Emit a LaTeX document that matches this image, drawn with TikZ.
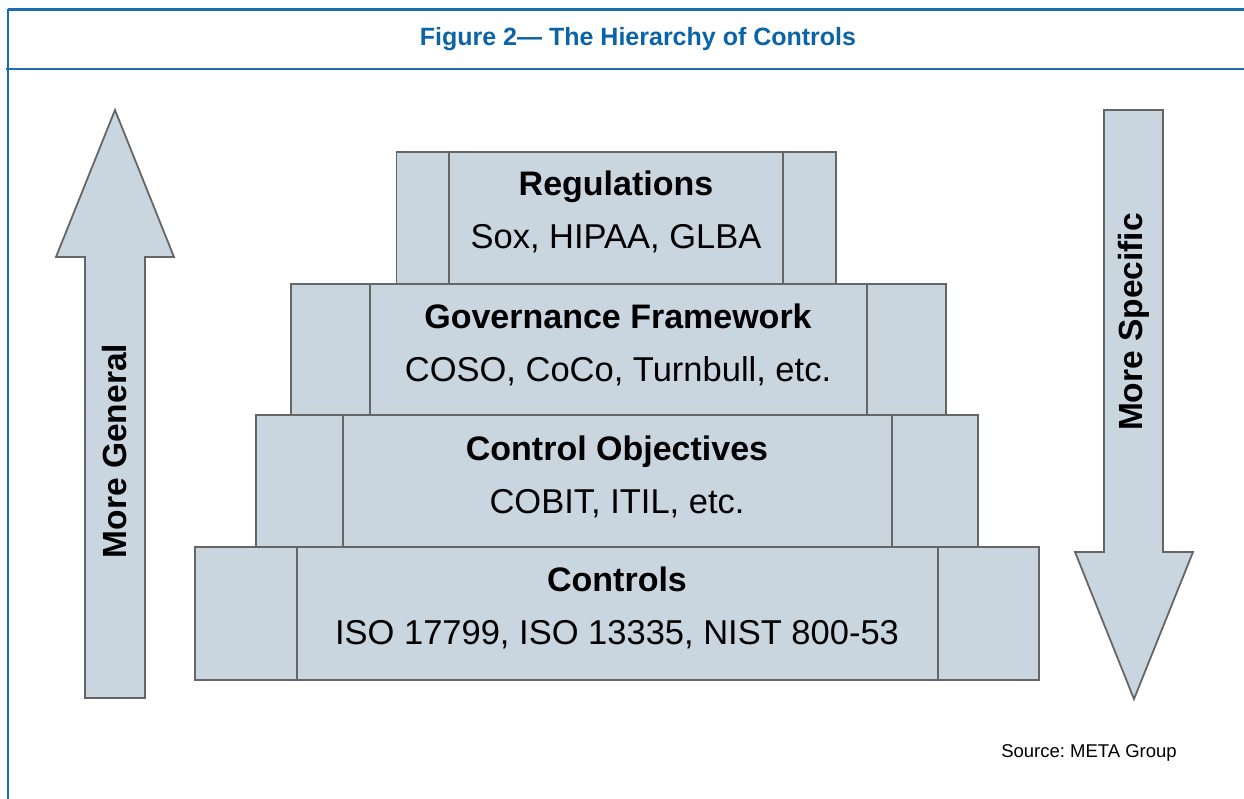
\documentclass[tikz,border=0pt]{standalone}
\usepackage{fontspec}
\setmainfont{Liberation Sans}
\frenchspacing
\definecolor{frameblue}{HTML}{1A6DB0}
\definecolor{titleblue}{HTML}{0B63A8}
\definecolor{tierfill}{HTML}{C9D5DF}
\definecolor{tierline}{HTML}{666666}
\begin{document}
\begin{tikzpicture}[x=1pt,y=-1pt,
  tier/.style={draw=tierline,fill=tierfill,line width=1.6pt},
  divider/.style={draw=tierline,line width=1.6pt},
  bigarrow/.style={draw=tierline,fill=tierfill,line width=1.8pt,line join=miter},
  headtxt/.style={anchor=base,font=\bfseries\fontsize{34}{40}\selectfont},
  subtxt/.style={anchor=base,font=\fontsize{34.5}{40}\selectfont},
  sidetxt/.style={rotate=90,font=\bfseries\fontsize{33.5}{38}\selectfont}]
\useasboundingbox (0,0) rectangle (1244,799);
% outer frame and header band
\draw[frameblue,line width=2.2pt] (8,9.5) -- (1260,9.5);
\draw[frameblue,line width=2.2pt] (8,9.5) -- (8,820);
\draw[frameblue,line width=2.2pt] (6,69) -- (1260,69);
\node[text=titleblue,font=\bfseries\fontsize{25}{30}\selectfont] (title) at (638,39) {Figure 2— The Hierarchy of Controls};

% pyramid tiers (bottom to top)
\draw[tier] (195,547) rectangle (1039,680);
\draw[divider] (297,547) -- (297,680);
\draw[divider] (938,547) -- (938,680);
\draw[tier] (256,415) rectangle (978,547);
\draw[divider] (343,415) -- (343,547);
\draw[divider] (892,415) -- (892,547);
\draw[tier] (291,284) rectangle (946,415);
\draw[divider] (370,284) -- (370,415);
\draw[divider] (867,284) -- (867,415);
\draw[tier] (396.5,152) rectangle (836,284);
\draw[divider] (449,152) -- (449,284);
\draw[divider] (783,152) -- (783,284);

\node[headtxt] (regT) at (616,196) {Regulations};
\node[subtxt]  (regS) at (616,249) {Sox, HIPAA, GLBA};
\node[headtxt] (govT) at (618,328) {Governance Framework};
\node[subtxt]  (govS) at (618,381) {COSO, CoCo, Turnbull, etc.};
\node[headtxt] (objT) at (617,460) {Control Objectives};
\node[subtxt]  (objS) at (617,513) {COBIT, ITIL, etc.};
\node[headtxt] (ctlT) at (617,591) {Controls};
\node[subtxt]  (ctlS) at (617,644) {ISO 17799, ISO 13335, NIST 800-53};

% direction arrows
\draw[bigarrow] (115,110) -- (174,257) -- (145,257) -- (145,698) -- (85,698) -- (85,257) -- (56,257) -- cycle;
\draw[bigarrow] (1104,110) -- (1163,110) -- (1163,552) -- (1193,552) -- (1134,699) -- (1075,552) -- (1104,552) -- cycle;
\node[sidetxt] (gen) at (115,451) {More General};
\node[sidetxt] (spec) at (1134,322) {More Specific};

\node[font=\fontsize{18.5}{22}\selectfont] (src) at (1089,753) {Source: META Group};
\end{tikzpicture}
\end{document}
